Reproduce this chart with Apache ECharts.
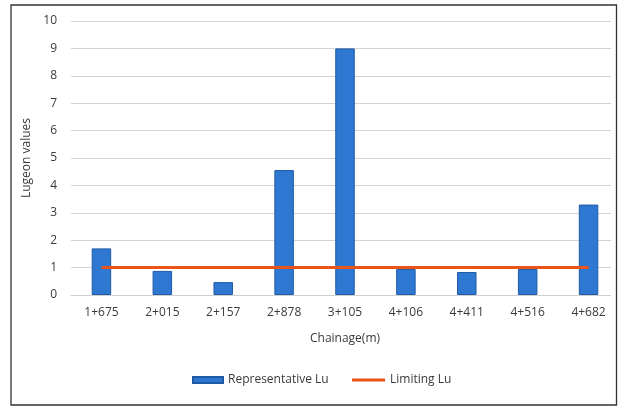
<!DOCTYPE html>
<html>
<head>
<meta charset="utf-8">
<script src="https://cdn.jsdelivr.net/npm/echarts@6/dist/echarts.min.js"></script>
<style>
  html, body { margin: 0; padding: 0; background: #fff; }
  #chart { width: 619px; height: 407px; }
</style>
</head>
<body>
<div id="chart"></div>
<script>
// Chainage stations along the alignment
const chainages = ['1+675', '2+015', '2+157', '2+878', '3+105', '4+106', '4+411', '4+516', '4+682'];
// Representative Lugeon value measured at each station
const representativeLu = [1.7, 0.88, 0.47, 4.56, 9.0, 0.95, 0.84, 0.95, 3.3];
// Acceptance threshold
const limitingLu = [1, 1, 1, 1, 1, 1, 1, 1, 1];
const yTicks = [0, 10, 1];

const font = 'Open Sans, Noto Sans, sans-serif';
const textColor = '#3a3a3a';
const chart = echarts.init(document.getElementById('chart'), null, { renderer: 'canvas' });

chart.setOption({
  animation: false,
  backgroundColor: '#fff',
  textStyle: { fontFamily: font },
  graphic: [
    {
      // trims the gridlines at the right edge of the plot
      type: 'rect',
      shape: { x: 611, y: 0, width: 8, height: 300 },
      style: { fill: '#fff' },
      silent: true,
      z: 90
    },
    {
      // outer frame
      type: 'rect',
      shape: { x: 11, y: 5, width: 605.5, height: 400 },
      style: { fill: 'none', stroke: '#333', lineWidth: 1.3 },
      silent: true,
      z: 100
    }
  ],
  grid: { left: 71, width: 550, top: 21, bottom: 112 },
  legend: [
    {
      left: 192,
      top: 374,
      padding: 0,
      itemWidth: 30,
      itemHeight: 6,
      textStyle: { fontSize: 12, color: textColor, fontFamily: font },
      data: [{ name: 'Representative Lu', icon: 'rect' }]
    },
    {
      left: 352,
      top: 374,
      padding: 0,
      itemWidth: 33,
      itemHeight: 3,
      textStyle: { fontSize: 12, color: textColor, fontFamily: font },
      data: [{ name: 'Limiting Lu', icon: 'rect' }]
    }
  ],
  xAxis: {
    type: 'category',
    data: chainages,
    name: 'Chainage(m)',
    nameLocation: 'middle',
    nameGap: 38,
    nameTextStyle: { fontSize: 12, color: textColor, fontFamily: font },
    axisLine: { lineStyle: { color: '#d0d0d0', width: 1 } },
    axisTick: { show: false },
    axisLabel: { fontSize: 12, color: textColor, margin: 12, fontFamily: font }
  },
  yAxis: {
    type: 'value',
    min: yTicks[0],
    max: yTicks[1],
    interval: yTicks[2],
    name: 'Lugeon values',
    nameLocation: 'middle',
    nameGap: 32,
    nameTextStyle: { fontSize: 12, color: textColor, fontFamily: font },
    axisLine: { show: false },
    axisTick: { show: false },
    axisLabel: { fontSize: 12, color: textColor, margin: 14, fontFamily: font },
    splitLine: { lineStyle: { color: '#d4d4d4', width: 1 } }
  },
  series: [
    {
      name: 'Representative Lu',
      type: 'bar',
      data: representativeLu,
      barWidth: '32%',
      itemStyle: { color: '#2E78D2', borderColor: '#1F5AA6', borderWidth: 1 }
    },
    {
      name: 'Limiting Lu',
      type: 'line',
      data: limitingLu,
      symbol: 'none',
      lineStyle: { color: '#EB5419', width: 3 },
      itemStyle: { color: '#EB5419' },
      z: 3
    }
  ]
});
</script>
</body>
</html>
